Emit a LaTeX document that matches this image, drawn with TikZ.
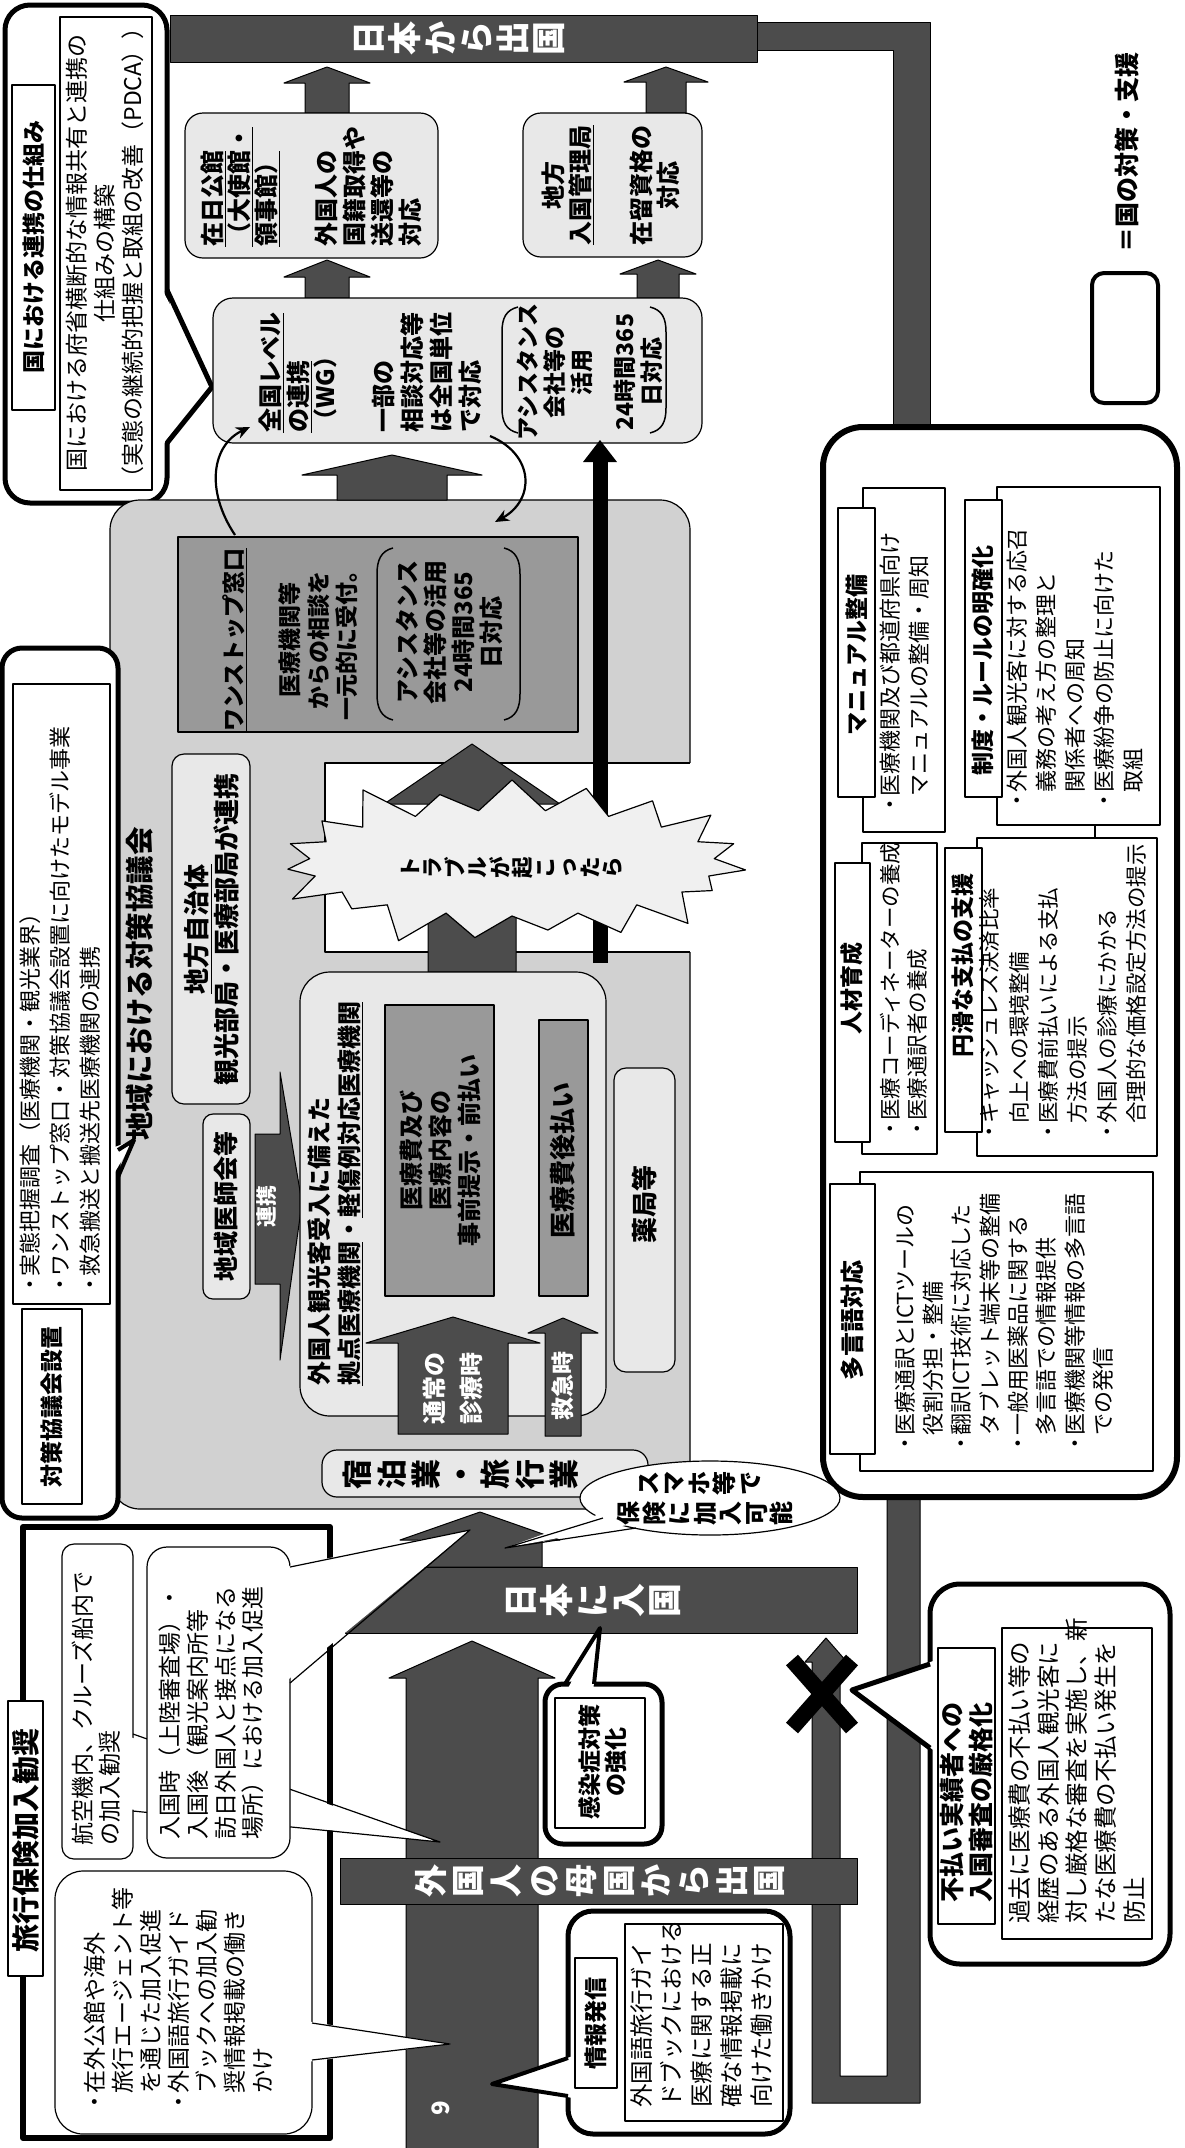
\documentclass[tikz,border=0pt]{standalone}
\usepackage{fontspec}
\setmainfont{Noto Sans CJK JP}
\usetikzlibrary{shapes.symbols,arrows.meta}
\definecolor{panelgray}{gray}{0.82}
\definecolor{boxgray}{gray}{0.91}
\definecolor{darkbox}{gray}{0.6}
\definecolor{bandgray}{gray}{0.3}
\newcommand\fsz[2]{\fontsize{#1}{#2}\selectfont}
\newcommand\bul{\makebox[0.7em][c]{・}}
\newcommand\indt{\hspace*{0.7em}}
\newcommand\uparr[6]{\filldraw[blk] ({#1-#5},#6) -- ({#1-#5},#3) -- ({#1-#4},#3) -- (#1,#2) -- ({#1+#4},#3) -- ({#1+#5},#3) -- ({#1+#5},#6) -- cycle;}
\begin{document}
\begin{tikzpicture}[x=1pt,y=-1pt,line join=round,
  rt/.style={rotate=90,inner sep=0pt,align=center},
  rtl/.style={rotate=90,inner sep=0pt,align=left},
  thinbox/.style={draw=black,line width=1.2pt},
  cbox/.style={draw=black,line width=5pt,fill=white,rounded corners=20pt},
  blk/.style={fill=bandgray,draw=black,line width=1pt},
  tl/.style={draw=black,line width=5pt}]
\useasboundingbox (0,0) rectangle (1184,2148);
\fill[white] (0,0) rectangle (1184,2148);

% ---------- loop strips ----------
\filldraw[blk] (757,22) -- (930,22) -- (930,430) -- (893,430) -- (893,50) -- (757,50) -- cycle;
\filldraw[blk] (887,1490) -- (920,1490) -- (920,2103) -- (812,2103) -- (812,1662) -- (805,1662) -- (826,1638) -- (847,1662) -- (840,1662) -- (840,2076) -- (887,2076) -- cycle;

% ---------- top band ----------
\filldraw[blk] (170,15) rectangle (757,62);
\node[rt,text=white,font=\fsz{34}{36}\bfseries] (bandout) at (459,38.5) {日\\本\\か\\ら\\出\\国};

% ---------- callout: national framework ----------
\draw[cbox,rounded corners=25pt] (5,5) rectangle (167,503);
\fill[white] (160,285) -- (212,387) -- (160,448) -- cycle;
\draw[tl] (167,290) -- (212,387) -- (167,443);
\draw[thinbox,fill=white] (12,85) rectangle (55,410);
\node[rt,font=\fsz{23}{26}\bfseries] (natt) at (33.5,247) {国における連携の仕組み};
\draw[thinbox] (60,17) rectangle (152,490);
\node[rt,font=\fsz{23}{28}] (natc) at (105,253) {国における府省横断的な情報共有と連携の\\仕組みの構築\\（実態の継続的把握と取組の改善（PDCA））};

% ---------- top arrows ----------
\uparr{327}{67}{83}{43}{22}{113}
\uparr{327}{260}{277}{43}{22}{298}
\uparr{666}{67}{82}{42}{20}{113}
\uparr{658}{260}{274}{38}{21}{298}

% ---------- top boxes ----------
\draw[thinbox,fill=boxgray,rounded corners=18pt] (185,113) rectangle (438,258);
\node[rtl,anchor=west,font=\fsz{24}{27}\bfseries] (emb1) at (240,247) {\underline{在日公館}\\\underline{（大使館・}\\\underline{領事館）}};
\node[rtl,anchor=west,font=\fsz{24}{28}\bfseries] (emb2) at (368,247) {外国人の\\国籍取得や\\送還等の\\対応};

\draw[thinbox,fill=boxgray,rounded corners=18pt] (523,113) rectangle (702,257);
\node[rt,font=\fsz{24}{27}\bfseries] (imm1) at (568,185) {地方\\\underline{入国管理局}};
\node[rt,font=\fsz{24}{27}\bfseries] (imm2) at (655,185) {在留資格の\\対応};

\draw[thinbox,fill=boxgray,rounded corners=20pt] (213,298) rectangle (702,443);
\node[rtl,anchor=west,font=\fsz{24}{27.5}\bfseries] (wg1) at (298,433) {\underline{全国レベル}\\\underline{の連携}\\（WG）};
\node[rtl,anchor=west,font=\fsz{24}{29}\bfseries] (wg2) at (427,433) {一部の\\相談対応等\\は全国単位\\で対応};
\draw[line width=1.5pt] (518,307) .. controls (506,310) and (502,318) .. (502,332) -- (502,408) .. controls (502,422) and (506,430) .. (518,433);
\draw[line width=1.5pt] (650,307) .. controls (662,310) and (666,318) .. (666,332) -- (666,408) .. controls (666,422) and (662,430) .. (650,433);
\node[rt,font=\fsz{23}{27}\bfseries] (as1) at (555,372) {アシスタンス\\会社等の\\活用};
\node[rt,font=\fsz{23}{27}\bfseries] (as2) at (638,372) {24時間365\\日対応};

% ---------- regional council panel ----------
\draw[thinbox,fill=panelgray,rounded corners=30pt] (110,500) rectangle (690,1509);
\fill[white] (325,763) rectangle (697,952);
\draw[thinbox] (690,763) -- (325,763) -- (325,952) -- (690,952);

\uparr{392}{455}{475}{90}{55}{500}
\draw[line width=2.2pt,-{Stealth[length=14pt,width=12pt]}] (235,535) .. controls (205,490) and (212,445) .. (250,427);
\draw[line width=2.2pt,-{Stealth[length=14pt,width=12pt]}] (490,436) .. controls (535,455) and (535,500) .. (495,522);

\draw[thinbox,fill=darkbox] (178,537) rectangle (578,732);
\node[rt,font=\fsz{23}{28.5}\bfseries] (one) at (290,640) {\underline{ワンストップ窓口}\\[28pt]医療機関等\\からの相談を\\一元的に受付。};
\draw[line width=1.5pt] (393,548) .. controls (381,551) and (377,560) .. (377,574) -- (377,694) .. controls (377,708) and (381,717) .. (393,720);
\draw[line width=1.5pt] (504,548) .. controls (516,551) and (520,560) .. (520,574) -- (520,694) .. controls (520,708) and (516,717) .. (504,720);
\node[rt,font=\fsz{24}{28}\bfseries] (as3) at (449,632) {アシスタンス\\会社等の活用\\24時間365\\日対応};

% thick black line up to WG
\draw[line width=15pt] (600,963) -- (600,458);
\fill (583,462) -- (600,440) -- (617,462) -- cycle;

% big arrow and starburst
\uparr{472}{744}{804}{88}{44}{972}
\node[starburst,draw=black,line width=1.2pt,fill=gray!12,minimum width=490pt,minimum height=190pt,starburst points=19,starburst point height=42pt] (burst) at (512,863) {};
\node[rt,font=\fsz{21.5}{22.5}\bfseries] (trouble) at (512,868) {ト\\ラ\\ブ\\ル\\が\\起\\こ\\っ\\た\\ら};

\draw[thinbox,fill=boxgray,rounded corners=12pt] (172,754) rectangle (250,1104);
\node[rt,font=\fsz{26}{30}\bfseries] (local) at (212,929) {\underline{地方自治体}\\観光部局・医療部局が連携};
\node[rt,font=\fsz{28.5}{30}\bfseries] (council) at (140,984) {地域における対策協議会};

\draw[thinbox,fill=boxgray,rounded corners=10pt] (203,1114) rectangle (250,1299);
\node[rt,font=\fsz{25}{28}\bfseries] (doc) at (226,1206) {地域医師会等};
\filldraw[blk] (255,1134) -- (280,1134) -- (280,1072) -- (302,1203) -- (280,1360) -- (280,1284) -- (255,1284) -- cycle;
\node[rt,text=white,font=\fsz{21}{24}\bfseries] (renkei) at (267,1206) {連携};

\draw[thinbox,fill=boxgray,rounded corners=30pt] (300,972) rectangle (606,1416);
\node[rtl,anchor=west,font=\fsz{24}{30}\bfseries] (hosp) at (335,1386) {外国人観光客受入に備えた\\\underline{拠点医療機関}・\underline{軽傷例対応医療機関}};
\draw[thinbox,fill=darkbox] (385,1005) rectangle (494,1296);
\node[rt,font=\fsz{24}{29}\bfseries] (pre) at (440,1150) {医療費及び\\医療内容の\\事前提示・前払い};
\draw[thinbox,fill=darkbox] (539,1020) rectangle (588,1296);
\node[rt,font=\fsz{26}{28}\bfseries] (post) at (563,1160) {医療費後払い};
\draw[thinbox,fill=boxgray,rounded corners=12pt] (614,1068) rectangle (675,1372);
\node[rt,font=\fsz{26}{28}\bfseries] (pharm) at (644,1204) {薬局等};

\uparr{453}{1317}{1343}{87}{55}{1434}
\node[rt,text=white,font=\fsz{24}{37}\bfseries] (normal) at (453,1388) {通常の\\診療時};
\uparr{563}{1318}{1333}{35}{18}{1436}
\node[rt,text=white,font=\fsz{23}{26}\bfseries] (emerg) at (563,1386) {救急時};

\draw[thinbox,fill=boxgray,rounded corners=15pt] (322,1450) rectangle (648,1497);
\node[rt,font=\fsz{30}{34.5}\bfseries] (hotel) at (461,1474) {宿\\泊\\業\\・\\旅\\行\\業};

% ---------- council callout ----------
\draw[cbox] (2,648) rectangle (118,1518);
\fill[white] (112,1148) -- (134,1140) -- (112,1177) -- cycle;
\draw[tl,line width=4pt] (118,1150) -- (134,1140) -- (118,1177);
\draw[thinbox,fill=white] (22,1309) rectangle (82,1504);
\node[rt,font=\fsz{23}{26}\bfseries] (cset) at (52,1407) {対策協議会設置};
\draw[thinbox] (13,684) rectangle (110,1304);
\node[rtl,anchor=west,font=\fsz{22}{30}] (clist) at (60,1292) {\bul 実態把握調査（医療機関・観光業界）\\\bul ワンストップ窓口・対策協議会設置に向けたモデル事業\\\bul 救急搬送と搬送先医療機関の連携};

% ---------- right panel ----------
\draw[line width=6pt,rounded corners=40pt,fill=white] (823,427) rectangle (1177,1497);
\draw[thinbox] (863,488) rectangle (945,832);
\draw[thinbox,fill=white] (838,508) rectangle (875,797);
\node[rt,font=\fsz{23}{25}\bfseries] (man) at (857,655) {マニュアル整備};
\node[rtl,anchor=west,font=\fsz{22}{29}] (manc) at (905,812) {\bul 医療機関及び都道府県向け\\\indt マニュアルの整備・周知};

\draw[thinbox] (997,487) rectangle (1160,825);
\draw[thinbox,fill=white] (965,500) rectangle (1002,797);
\node[rt,font=\fsz{23}{25}\bfseries] (rule) at (983,660) {制度・ルールの明確化};
\node[rtl,anchor=west,font=\fsz{22}{29}] (rulec) at (1075,808) {\bul 外国人観光客に対する応召\\\indt 義務の考え方の整理と\\\indt 関係者への周知\\\bul 医療紛争の防止に向けた\\\indt 取組};
\draw[thinbox] (1095,825) -- (1095,838);

\draw[thinbox] (862,843) rectangle (937,1154);
\draw[thinbox,fill=white] (835,863) rectangle (870,1142);
\node[rt,font=\fsz{23}{25}\bfseries] (hr) at (852,988) {人材育成};
\node[rtl,anchor=west,font=\fsz{21.5}{27}] (hrc) at (904,1136) {\bul 医療コーディネーターの養成\\\bul 医療通訳者の養成};

\draw[thinbox] (977,838) rectangle (1157,1156);
\draw[thinbox,fill=white] (945,848) rectangle (982,1132);
\node[rt,font=\fsz{23}{25}\bfseries] (pay) at (963,965) {円滑な支払の支援};
\node[rtl,anchor=west,font=\fsz{21.5}{29.4}] (payc) at (1063,1139) {\bul キャッシュレス決済比率\\\indt 向上への環境整備\\\bul 医療費前払いによる支払\\\indt 方法の提示\\\bul 外国人の診療にかかる\\\indt 合理的な価格設定方法の提示};

\draw[thinbox] (860,1172) rectangle (1153,1471);
\draw[thinbox,fill=white] (830,1184) rectangle (875,1454);
\node[rt,font=\fsz{24}{26}\bfseries] (lang) at (852,1320) {多言語対応};
\node[rtl,anchor=west,font=\fsz{22}{28.3}] (langc) at (1004,1451) {\bul 医療通訳とICTツールの\\\indt 役割分担・整備\\\bul 翻訳ICT技術に対応した\\\indt タブレット端末等の整備\\\bul 一般用医薬品に関する\\\indt 多言語での情報提供\\\bul 医療機関等情報の多言語\\\indt での発信};

% legend
\draw[line width=4pt,rounded corners=12pt] (1092,273) rectangle (1158,403);
\node[rt,font=\fsz{25}{27}\bfseries] (legend) at (1127,152) {＝国の対策・支援};

% ---------- bottom ----------
\uparr{472}{1641}{1678}{83}{66}{2150}
\uparr{480}{1512}{1540}{80}{62}{1567}
\filldraw[blk] (345,1567) rectangle (857,1633);
\node[rt,text=white,font=\fsz{34}{36}\bfseries] (bandin) at (593,1600) {日\\本\\に\\入\\国};
\filldraw[blk] (340,1858) rectangle (857,1904);
\node[rt,text=white,font=\fsz{33}{37.6}\bfseries] (bandhome) at (600,1881) {外\\国\\人\\の\\母\\国\\か\\ら\\出\\国};
\node[rt,text=white,font=\fsz{24}{26}\bfseries] (pageno) at (441,2108) {9};

% insurance box
\draw[line width=6pt,fill=white] (23,1527) rectangle (330,2138);
\draw[thinbox,fill=white] (8,1701) rectangle (43,1976);
\node[rt,font=\fsz{28}{30}\bfseries] (ins) at (25.5,1840) {旅行保険加入勧奨};
% in-flight bubble + tail
\draw[thinbox,fill=white,rounded corners=12pt] (62,1544) rectangle (133,1859);
\fill[white] (127,1736) -- (440,1842) -- (127,1809) -- cycle;
\draw[thinbox] (133,1734) -- (440,1842) -- (133,1811);
\node[rtl,anchor=west,font=\fsz{23}{27}] (air) at (96.5,1846) {航空機内、クルーズ船内で\\の加入勧奨};
% entry bubble + tail
\draw[thinbox,fill=white,rounded corners=20pt] (147,1547) rectangle (290,1858);
\fill[white] (284,1567) -- (470,1530) -- (284,1683) -- cycle;
\draw[thinbox] (290,1567) -- (470,1530) -- (290,1683);
\node[rtl,anchor=west,font=\fsz{23}{27.7}] (entry) at (211.5,1840) {入国時（上陸審査場）・\\入国後（観光案内所等\\訪日外国人と接点になる\\場所）における加入促進};
% abroad bubble + tail
\draw[thinbox,fill=white,rounded corners=28pt] (55,1871) rectangle (312,2134);
\fill[white] (306,2021) -- (450,2044) -- (306,2062) -- cycle;
\draw[thinbox] (312,2023) -- (450,2044) -- (312,2060);
\node[rtl,anchor=west,font=\fsz{23}{28}] (abroad) at (179,2110) {\bul 在外公館や海外\\\indt 旅行エージェント等\\\indt を通じた加入促進\\\bul 外国語旅行ガイド\\\indt ブックへの加入勧\\\indt 奨情報掲載の働き\\\indt かけ};

% infection callout
\draw[cbox,rounded corners=18pt] (545,1684) rectangle (662,1844);
\fill[white] (566,1692) -- (600,1628) -- (593,1692) -- cycle;
\draw[tl,line width=4pt] (565,1684) -- (600,1628) -- (594,1684);
\draw[thinbox] (555,1698) rectangle (645,1828);
\node[rt,font=\fsz{23}{26}\bfseries] (infect) at (603,1762) {感染症対策\\の強化};

% information callout
\draw[cbox,rounded corners=25pt] (568,1911) rectangle (790,2134);
\fill[white] (573,2056) -- (492,2084) -- (573,2098) -- cycle;
\draw[tl,line width=4pt] (568,2058) -- (492,2084) -- (568,2096);
\draw[thinbox,fill=white] (575,1958) rectangle (617,2088);
\node[rt,font=\fsz{23}{26}\bfseries] (info) at (596,2023) {情報発信};
\draw[thinbox] (625,1924) rectangle (783,2121);
\node[rtl,anchor=west,font=\fsz{23.5}{30}] (infoc) at (702,2108) {外国語旅行ガイ\\ドブックにおける\\医療に関する正\\確な情報掲載に\\向けた働きかけ};

% non-payment callout
\draw[cbox,rounded corners=30pt] (930,1584) rectangle (1170,1964);
\fill[white] (936,1660) -- (852,1690) -- (936,1752) -- cycle;
\draw[tl] (930,1664) -- (852,1690) -- (930,1748);
\draw[thinbox,fill=white] (938,1648) rectangle (995,1924);
\node[rt,font=\fsz{25}{29}\bfseries] (np) at (967,1802) {不払い実績者への\\入国審査の厳格化};
\draw[thinbox] (1002,1628) rectangle (1152,1939);
\node[rtl,anchor=west,font=\fsz{23.5}{28.7}] (npc) at (1077,1924) {過去に医療費の不払い等の\\経歴のある外国人観光客に\\対し厳格な審査を実施し、新\\たな医療費の不払い発生を\\防止};

% X mark
\draw[line width=16pt] (792,1660) -- (852,1728);
\draw[line width=16pt] (792,1728) -- (852,1660);

% smartphone bubble
\draw[thinbox,fill=white] (710,1498) ellipse [x radius=130, y radius=37];
\fill[white] (605,1512) -- (505,1548) -- (638,1523) -- cycle;
\draw[thinbox] (603,1518) -- (505,1548) -- (636,1528);
\node[rt,font=\fsz{24}{25.5}\bfseries] (sm1) at (700,1483) {ス\\マ\\ホ\\等\\で};
\node[rt,font=\fsz{24}{25.5}\bfseries] (sm2) at (705,1513) {保\\険\\に\\加\\入\\可\\能};
\end{tikzpicture}
\end{document}
